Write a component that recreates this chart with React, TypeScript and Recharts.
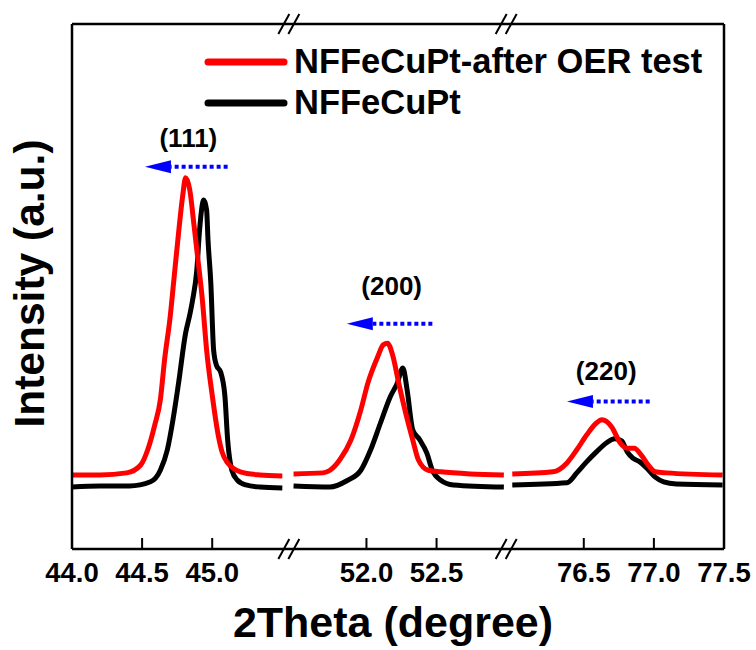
import { LineChart, Line, XAxis, YAxis, ReferenceLine, ReferenceDot, Legend } from 'recharts';

// three 2θ windows glued together on one broken axis
const SEGMENT_FROM = [44.0, 51.45, 75.95];
const SEGMENT_TO = [45.55, 53.0, 77.5];
const TICK_DEGREES = [44.0, 44.5, 45.0, 52.0, 52.5, 76.5, 77.0, 77.5];

// [2θ, intensity]
const AFTER_111: [number, number][] = [
  [44.0, 14.1], [44.2, 14.1], [44.39, 14.5], [44.49, 16.0], [44.54, 18.9], [44.59, 23.6],
  [44.63, 28.4], [44.66, 36.0], [44.7, 44.2], [44.73, 52.2], [44.76, 60.2], [44.79, 67.4],
  [44.81, 70.7], [44.84, 68.4], [44.87, 61.7], [44.89, 57.0], [44.93, 47.4], [44.96, 37.9],
  [45.0, 29.3], [45.04, 22.1], [45.07, 18.5], [45.11, 16.4], [45.2, 14.7], [45.34, 14.1], [45.5, 13.9],
];
const AFTER_200: [number, number][] = [
  [51.48, 14.3], [51.69, 14.5], [51.74, 15.0], [51.81, 17.0], [51.89, 20.8], [51.96, 26.5],
  [52.01, 31.6], [52.08, 36.6], [52.12, 38.9], [52.15, 39.2], [52.19, 36.6], [52.23, 31.6],
  [52.28, 25.9], [52.33, 20.8], [52.37, 17.0], [52.44, 15.0], [52.53, 14.7], [52.74, 14.3], [52.98, 14.1],
];
const AFTER_220: [number, number][] = [
  [75.99, 14.3], [76.28, 14.7], [76.38, 16.4], [76.45, 18.9], [76.52, 21.7], [76.59, 24.0],
  [76.63, 24.6], [76.7, 23.2], [76.76, 20.2], [76.81, 19.2], [76.86, 19.2], [76.91, 17.9],
  [76.96, 16.0], [77.01, 14.7], [77.09, 14.5], [77.49, 14.1],
];
const PRISTINE_111: [number, number][] = [
  [44.0, 11.8], [44.2, 12.0], [44.41, 12.0], [44.56, 12.8], [44.63, 15.0], [44.68, 18.9],
  [44.72, 24.6], [44.76, 31.6], [44.81, 41.1], [44.84, 44.6], [44.86, 47.4], [44.89, 53.1],
  [44.91, 60.8], [44.94, 66.5], [44.96, 64.6], [44.97, 58.9], [44.99, 50.7], [45.01, 37.9],
  [45.03, 35.0], [45.06, 33.7], [45.09, 29.3], [45.11, 20.8], [45.14, 15.0], [45.18, 13.1],
  [45.24, 12.2], [45.34, 11.8], [45.5, 11.6],
];
const PRISTINE_200: [number, number][] = [
  [51.48, 12.0], [51.74, 11.8], [51.86, 13.0], [51.96, 15.0], [52.03, 18.9], [52.1, 24.0],
  [52.17, 29.0], [52.22, 31.6], [52.26, 34.5], [52.29, 30.3], [52.33, 22.7], [52.38, 20.8],
  [52.43, 18.3], [52.47, 15.0], [52.53, 13.1], [52.62, 12.2], [52.98, 11.8],
];
const PRISTINE_220: [number, number][] = [
  [75.99, 12.2], [76.38, 12.6], [76.45, 14.5], [76.52, 16.6], [76.59, 18.5], [76.66, 20.2],
  [76.72, 21.0], [76.77, 20.6], [76.81, 18.5], [76.85, 17.3], [76.9, 16.6], [76.95, 15.4],
  [77.01, 13.7], [77.07, 12.8], [77.16, 12.4], [77.49, 12.2],
];

const SERIES_NAMES = ['NFFeCuPt-after OER test', 'NFFeCuPt'];
const SERIES_COLORS = ['#ff0000', '#000000'];

// peak labels and the blue shift arrows (tail -> tip)
const PEAK_LABELS = ['(111)', '(200)', '(220)'];
const PEAK_LABEL_AT = [44.83, 52.18, 76.66];
const PEAK_LABEL_LEVEL = [76.6, 48.4, 32.2];
const ARROW_TAIL = [45.11, 52.47, 76.97];
const ARROW_TIP = [44.52, 51.86, 76.38];
const ARROW_LEVEL = [72.8, 42.9, 28.1];

const FONT = "'Liberation Sans', Arial, Helvetica, sans-serif";
const TOTAL = SEGMENT_TO.reduce((s, t, i) => s + t - SEGMENT_FROM[i], 0);

function segmentOf(deg: number) {
  let idx = 0;
  SEGMENT_FROM.forEach((f, i) => { if (deg >= f - 1) idx = i; });
  return idx;
}

function toAxis(deg: number) {
  const idx = segmentOf(deg);
  let offset = 0;
  for (let i = 0; i < idx; i++) offset += SEGMENT_TO[i] - SEGMENT_FROM[i];
  return offset + deg - SEGMENT_FROM[idx];
}

function fromAxis(u: number) {
  let offset = 0;
  for (let i = 0; i < SEGMENT_FROM.length; i++) {
    const w = SEGMENT_TO[i] - SEGMENT_FROM[i];
    if (u <= offset + w + 1e-6) return SEGMENT_FROM[i] + u - offset;
    offset += w;
  }
  return SEGMENT_TO[SEGMENT_TO.length - 1];
}

// break between windows -> null row so the line gaps
function buildRows(parts: [number, number][][]) {
  const rows: { u: number; v: number | null }[] = [];
  parts.forEach((part, i) => {
    if (i > 0) rows.push({ u: toAxis(part[0][0]) - 0.02, v: null });
    part.forEach(([d, v]) => rows.push({ u: toAxis(d), v }));
  });
  return rows;
}

const afterRows = buildRows([AFTER_111, AFTER_200, AFTER_220]);
const pristineRows = buildRows([PRISTINE_111, PRISTINE_200, PRISTINE_220]);
const breakPositions = SEGMENT_TO.slice(0, -1).map((t, i) => toAxis(t) + 0 * i);

const XTick = ({ x, y, payload }: any) => (
  <g>
    <line x1={x} x2={x} y1={y} y2={y - 11} stroke="#000" strokeWidth={2} />
    <text x={x} y={y + 33} textAnchor="middle" fontSize={27.5} fontWeight="bold" fontFamily={FONT} fill="#000">
      {fromAxis(payload.value).toFixed(1)}
    </text>
  </g>
);

const BreakMark = ({ cx, cy }: any) => (
  <g stroke="#000" strokeWidth={2}>
    <line x1={cx - 11} y1={cy + 10} x2={cx} y2={cy - 10} />
    <line x1={cx - 1} y1={cy + 10} x2={cx + 10} y2={cy - 10} />
  </g>
);

const Arrow = ({ x1, y1, x2, y2 }: any) => {
  const dir = Math.sign(x2 - x1);
  const bx = x2 - dir * 26;
  return (
    <g>
      <line x1={x1} y1={y1} x2={bx} y2={y2} stroke="#0000ff" strokeWidth={4} strokeDasharray="4 3" />
      <polygon points={`${x2},${y2} ${bx},${y2 - 6.5} ${bx},${y2 + 6.5}`} fill="#0000ff" />
    </g>
  );
};

const peakLabel = (text: string) => ({ cx, cy }: any) => (
  <text x={cx} y={cy} textAnchor="middle" fontSize={26} fontWeight="bold" fontFamily={FONT} fill="#000">
    {text}
  </text>
);

const LegendBox = () => (
  <svg width={530} height={90}>
    {SERIES_NAMES.map((name, i) => (
      <g key={name}>
        <line x1={12} x2={88} y1={22 + i * 41} y2={22 + i * 41} stroke={SERIES_COLORS[i]} strokeWidth={7} strokeLinecap="round" />
        <text x={98} y={33 + i * 41} fontSize={34.5} fontWeight="bold" fontFamily={FONT} fill="#000">{name}</text>
      </g>
    ))}
  </svg>
);

export default function App() {
  return (
    <div style={{ position: 'absolute', left: 0, top: 0, background: '#fff' }}>
      <LineChart width={756} height={650} margin={{ top: 0, right: 0, bottom: 0, left: 0 }}>
        <XAxis
          dataKey="u"
          type="number"
          domain={[0, TOTAL]}
          allowDataOverflow
          ticks={TICK_DEGREES.map(toAxis)}
          interval={0}
          height={101}
          tickSize={0}
          tickMargin={0}
          tickLine={false}
          tick={<XTick />}
          axisLine={{ stroke: '#000', strokeWidth: 2.5 }}
          label={(p: any) => (
            <text x={p.viewBox.x + p.viewBox.width / 2 - 5} y={p.viewBox.y + 88} textAnchor="middle" fontSize={43} fontWeight="bold" fontFamily={FONT} fill="#000">
              2Theta (degree)
            </text>
          )}
        />
        <XAxis xAxisId="top" orientation="top" type="number" domain={[0, TOTAL]} height={24} tick={false} tickLine={false} axisLine={{ stroke: '#000', strokeWidth: 2.5 }} />
        <YAxis
          type="number"
          domain={[0, 100]}
          width={72}
          tick={false}
          tickLine={false}
          axisLine={{ stroke: '#000', strokeWidth: 2.5 }}
          label={(p: any) => {
            const cy = p.viewBox.y + p.viewBox.height / 2 - 3;
            return (
              <text x={44} y={cy} transform={`rotate(-90, 44, ${cy})`} textAnchor="middle" fontSize={42.5} fontWeight="bold" fontFamily={FONT} fill="#000">
                Intensity (a.u.)
              </text>
            );
          }}
        />
        <YAxis yAxisId="right" orientation="right" type="number" domain={[0, 100]} width={32} tick={false} tickLine={false} axisLine={{ stroke: '#000', strokeWidth: 2.5 }} />

        <Line data={pristineRows} dataKey="v" name={SERIES_NAMES[1]} stroke={SERIES_COLORS[1]} strokeWidth={5} strokeLinejoin="round" type="monotone" dot={false} activeDot={false} isAnimationActive={false} />
        <Line data={afterRows} dataKey="v" name={SERIES_NAMES[0]} stroke={SERIES_COLORS[0]} strokeWidth={5} strokeLinejoin="round" type="monotone" dot={false} activeDot={false} isAnimationActive={false} />

        {PEAK_LABELS.map((lab, i) => (
          <ReferenceLine
            key={`arrow-${lab}`}
            segment={[{ x: toAxis(ARROW_TAIL[i]), y: ARROW_LEVEL[i] }, { x: toAxis(ARROW_TIP[i]), y: ARROW_LEVEL[i] }]}
            ifOverflow="visible"
            shape={Arrow}
          />
        ))}
        {PEAK_LABELS.map((lab, i) => (
          <ReferenceDot key={`lab-${lab}`} x={toAxis(PEAK_LABEL_AT[i])} y={PEAK_LABEL_LEVEL[i]} r={0} ifOverflow="visible" shape={peakLabel(lab)} />
        ))}
        {breakPositions.map((u) => [0, 100].map((lvl) => (
          <ReferenceDot key={`brk-${u}-${lvl}`} x={u} y={lvl} r={0} ifOverflow="visible" shape={BreakMark} />
        )))}

        <Legend layout="horizontal" verticalAlign="middle" align="center" wrapperStyle={{ left: 196, top: 40, width: 530, height: 90 }} content={<LegendBox />} />
      </LineChart>
    </div>
  );
}
